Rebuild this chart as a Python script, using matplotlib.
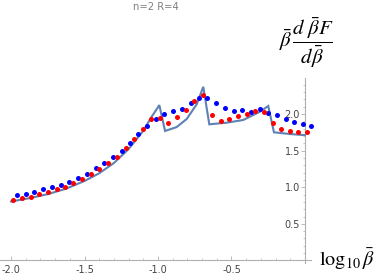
import numpy as np
import matplotlib
matplotlib.use("Agg")
import matplotlib.pyplot as plt
from matplotlib.ticker import FixedLocator, FormatStrFormatter

plt.rcParams['mathtext.fontset'] = 'stix'

title = "n=2 R=4"

# exact curve (sawtooth)
line_x = [-2.0, -1.875, -1.75, -1.625, -1.5, -1.4, -1.3, -1.2, -1.1, -1.05, -0.991,
          -0.952, -0.873, -0.805, -0.737, -0.692,
          -0.651, -0.533, -0.42, -0.306, -0.25,
          -0.211, -0.1, 0.0]
line_y = [0.805, 0.85, 0.905, 0.98, 1.085, 1.19, 1.33, 1.52, 1.77, 1.94, 2.12,
          1.767, 1.82, 1.93, 2.13, 2.37,
          1.858, 1.88, 1.917, 2.03, 2.108,
          1.749, 1.725, 1.71]

blue_x = [-1.957, -1.898, -1.841, -1.780, -1.721, -1.662, -1.603, -1.542, -1.485,
          -1.424, -1.367, -1.304, -1.247, -1.190, -1.134, -1.077, -1.016, -0.957,
          -0.896, -0.839, -0.778, -0.721, -0.665, -0.605, -0.542, -0.483, -0.427,
          -0.367, -0.306, -0.250, -0.188, -0.129, -0.073, -0.012, 0.039]
blue_y = [0.894, 0.911, 0.939, 0.971, 0.999, 1.034, 1.067, 1.130, 1.180,
          1.258, 1.326, 1.408, 1.490, 1.607, 1.722, 1.835, 1.926, 2.003,
          2.040, 2.071, 2.145, 2.213, 2.217, 2.153, 2.076, 2.044, 2.053,
          2.030, 2.071, 2.008, 1.981, 1.930, 1.890, 1.862, 1.839]

red_x = [-1.984, -1.927, -1.866, -1.810, -1.750, -1.689, -1.633, -1.576, -1.519,
         -1.456, -1.399, -1.338, -1.281, -1.220, -1.161, -1.104, -1.048, -0.986,
         -0.930, -0.869, -0.810, -0.753, -0.692, -0.633, -0.574, -0.515, -0.454,
         -0.397, -0.340, -0.281, -0.220, -0.163, -0.102, -0.046, 0.016]
red_y = [0.829, 0.849, 0.870, 0.903, 0.935, 0.971, 1.003, 1.061, 1.112,
         1.180, 1.248, 1.326, 1.416, 1.539, 1.662, 1.790, 1.930, 1.940,
         1.876, 1.954, 2.053, 2.180, 2.254, 1.985, 1.899, 1.935, 1.971,
         1.999, 2.044, 2.030, 1.872, 1.790, 1.771, 1.757, 1.749]

x_major = [-2.0, -1.5, -1.0, -0.5]
x_minor = [-1.9, -1.8, -1.7, -1.6, -1.4, -1.3, -1.2, -1.1, -0.9, -0.8, -0.7, -0.6,
           -0.4, -0.3, -0.2, -0.1]
y_major = [0.5, 1.0, 1.5, 2.0]
y_minor = [0.1, 0.2, 0.3, 0.4, 0.6, 0.7, 0.8, 0.9, 1.1, 1.2, 1.3, 1.4, 1.6, 1.7,
           1.8, 1.9, 2.1, 2.2, 2.3, 2.4]

W, H = 382, 278
fig = plt.figure(figsize=(W / 100, H / 100), dpi=100)
ax = fig.add_axes([0, 0, 1, 1])
ax.set_xlim(-2.075, 0.524)
ax.set_ylim(-0.239, 3.554)

ax.plot(line_x, line_y, color='#5E81B5', lw=1.5, zorder=3, solid_joinstyle='miter')
ax.plot(blue_x, blue_y, 'o', color='#0000ff', ms=3.6, mec='none', zorder=4)
ax.plot(red_x, red_y, 'o', color='#ff0000', ms=3.6, mec='none', zorder=5)

axcol = '#b0b0b0'
for s in ['top', 'right']:
    ax.spines[s].set_visible(False)
ax.spines['left'].set_position(('data', 0))
ax.spines['bottom'].set_position(('data', 0))
ax.spines['left'].set_bounds(-0.03, 2.49)
ax.spines['bottom'].set_bounds(-2.075, 0.04)
for s in ['left', 'bottom']:
    ax.spines[s].set_color(axcol)
    ax.spines[s].set_linewidth(0.8)

ax.xaxis.set_major_locator(FixedLocator(x_major))
ax.xaxis.set_minor_locator(FixedLocator(x_minor))
ax.yaxis.set_major_locator(FixedLocator(y_major))
ax.yaxis.set_minor_locator(FixedLocator(y_minor))
ax.xaxis.set_major_formatter(FormatStrFormatter('%.1f'))
ax.yaxis.set_major_formatter(FormatStrFormatter('%.1f'))

ax.tick_params(axis='x', which='major', direction='in', length=3, width=0.6,
               color=axcol, labelsize=7, labelcolor='#444444', pad=3)
ax.tick_params(axis='x', which='minor', direction='in', length=1.6, width=0.5, color=axcol)
ax.tick_params(axis='y', which='major', direction='out', length=3, width=0.6,
               color=axcol, labelsize=7, labelcolor='#444444', pad=0.5)
ax.tick_params(axis='y', which='minor', direction='out', length=1.6, width=0.5, color=axcol)

fig.text(156 / W, 1 - 6.5 / H, title, ha='center', va='center', fontsize=7.2, color='#808080')
fig.text(306 / W, 1 - 43 / H, r'$\bar{\beta}\,\dfrac{d\;\bar{\beta}F}{d\bar{\beta}}$',
         ha='center', va='center', fontsize=15, color='black')
fig.text(319 / W, 1 - 259 / H, r'$\log_{10}\bar{\beta}$', ha='left', va='center',
         fontsize=14.5, color='black')

fig.savefig('out.png', dpi=100)
